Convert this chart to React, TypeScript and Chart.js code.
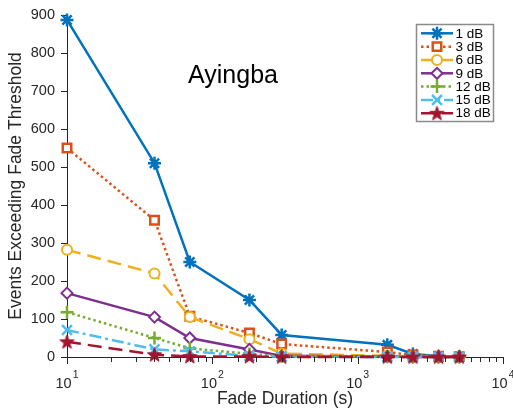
import React, { useEffect, useRef } from 'react';
import { Chart, registerables } from 'chart.js';
import { drawPoint } from 'chart.js/helpers';

Chart.register(...registerables);

// ---- data ----
const durations = [10, 40, 70, 180, 300, 1600, 2400, 3600, 5000];
const thresholdLabels = ['1 dB', '3 dB', '6 dB', '9 dB', '12 dB', '15 dB', '18 dB'];
const events1dB = [887, 510, 250, 150, 58, 32, 8, 2, 1];
const events3dB = [550, 360, 107, 63, 34, 13, 5, 2, 1];
const events6dB = [282, 220, 105, 47, 9, 3, 1, 0, 0];
const events9dB = [168, 105, 50, 20, 3, 1, 0, 0, 0];
const events12dB = [118, 50, 23, 8, 2, 1, 0, 0, 0];
const events15dB = [71, 20, 15, 3, 1, 0, 0, 0, 0];
const events18dB = [40, 6, 1, 1, 0, 0, 0, 0, 0];
const seriesValues = [events1dB, events3dB, events6dB, events9dB, events12dB, events15dB, events18dB];
const xTickExponents = [1, 2, 3, 4];
const yMin = 0;
const yMax = 900;
const yStep = 100;
const chartTitle = 'Ayingba';
const xTitle = 'Fade Duration (s)';
const yTitle = 'Events Exceeding Fade Threshold';

const FONT = '"Liberation Sans", Arial, Helvetica, sans-serif';
const AXIS = '#262626';

function makePentagram(color: string, outerR: number) {
  const c = document.createElement('canvas');
  const size = Math.ceil(outerR * 2 + 2);
  c.width = size;
  c.height = size;
  const g = c.getContext('2d')!;
  const cx = size / 2;
  const cy = size / 2 + 0.5;
  const innerR = outerR * 0.4;
  g.beginPath();
  for (let i = 0; i < 10; i++) {
    const r = i % 2 === 0 ? outerR : innerR;
    const a = -Math.PI / 2 + (i * Math.PI) / 5;
    const px = cx + r * Math.cos(a);
    const py = cy + r * Math.sin(a);
    if (i === 0) g.moveTo(px, py);
    else g.lineTo(px, py);
  }
  g.closePath();
  g.fillStyle = color;
  g.fill();
  g.strokeStyle = color;
  g.lineWidth = 1;
  g.stroke();
  return c;
}

const legendPlugin = {
  id: 'matlabLegend',
  afterDraw(chart: any) {
    const ctx = chart.ctx as CanvasRenderingContext2D;
    ctx.save();
    const bx = 416.5, by = 24.5, bw = 77, bh = 97;
    ctx.fillStyle = '#ffffff';
    ctx.fillRect(bx, by, bw, bh);
    ctx.strokeStyle = '#8a8a8a';
    ctx.lineWidth = 1.5;
    ctx.setLineDash([]);
    ctx.strokeRect(bx, by, bw, bh);
    chart.data.datasets.forEach((ds: any, i: number) => {
      const y = 33.3 + i * 13.33;
      ctx.beginPath();
      ctx.setLineDash(ds.borderDash || []);
      ctx.lineWidth = ds.borderWidth;
      ctx.strokeStyle = ds.borderColor;
      ctx.moveTo(421, y);
      ctx.lineTo(453, y);
      ctx.stroke();
      ctx.setLineDash([]);
      ctx.fillStyle = ds.pointBackgroundColor;
      ctx.strokeStyle = ds.pointBorderColor;
      ctx.lineWidth = ds.pointBorderWidth;
      drawPoint(ctx, { pointStyle: ds.pointStyle, radius: ds.pointRadius, borderWidth: ds.pointBorderWidth, rotation: 0 } as any, 437, y);
      ctx.fillStyle = '#000000';
      ctx.font = `13.5px ${FONT}`;
      ctx.textBaseline = 'middle';
      ctx.textAlign = 'left';
      ctx.fillText(ds.label, 455.5, y + 0.5);
    });
    ctx.restore();
  },
};

const decorPlugin = {
  id: 'matlabDecor',
  afterDraw(chart: any) {
    const ctx = chart.ctx as CanvasRenderingContext2D;
    const xs = chart.scales.x;
    const base = xs.top;
    ctx.save();
    // outward x ticks
    ctx.strokeStyle = AXIS;
    ctx.lineWidth = 1;
    xs.ticks.forEach((t: any) => {
      const px = Math.round(xs.getPixelForValue(t.value)) + 0.5;
      const isMajor = Math.abs(Math.log10(t.value) - Math.round(Math.log10(t.value))) < 1e-9;
      ctx.beginPath();
      ctx.moveTo(px, base);
      ctx.lineTo(px, base + (isMajor ? 7 : 5));
      ctx.stroke();
    });
    // x tick labels with superscripts
    ctx.fillStyle = AXIS;
    ctx.textBaseline = 'alphabetic';
    ctx.textAlign = 'left';
    xTickExponents.forEach((e) => {
      const px = xs.getPixelForValue(Math.pow(10, e));
      ctx.font = `14.5px ${FONT}`;
      const w1 = ctx.measureText('10').width;
      ctx.font = `10.5px ${FONT}`;
      const w2 = ctx.measureText(String(e)).width;
      const start = px - (w1 + w2 + 1) / 2;
      ctx.font = `14.5px ${FONT}`;
      ctx.fillText('10', start, 387.5);
      ctx.font = `10.5px ${FONT}`;
      ctx.fillText(String(e), start + w1 + 1, 377.5);
    });
    // title text
    ctx.fillStyle = '#000000';
    ctx.font = `25px ${FONT}`;
    ctx.textAlign = 'center';
    ctx.fillText(chartTitle, 233, 83);
    ctx.restore();
  },
};

export default function App() {
  const canvasRef = useRef<HTMLCanvasElement | null>(null);

  useEffect(() => {
    const colors = ['#0072BD', '#D95319', '#EDB120', '#7E2F8E', '#77AC30', '#4DBEEE', '#A2142F'];
    const dashes = [[], [2.5, 3], [14, 7], [], [2.5, 3], [12, 4, 3, 4], [14, 7]];
    const pentagram = makePentagram('#A2142F', 7.5);
    const styles: any[] = ['star', 'rect', 'circle', 'rectRot', 'cross', 'crossRot', pentagram];
    const radii = [6.5, 6, 5, 5.5, 6.5, 7, 7.5];
    const fills = ['#0072BD', '#ffffff', '#ffffff', '#ffffff', '#77AC30', '#4DBEEE', '#A2142F'];
    const pbw = [2.5, 2.5, 2, 2, 2.5, 2.5, 2];

    const datasets = seriesValues.map((vals, i) => ({
      label: thresholdLabels[i],
      data: durations.map((d, j) => ({ x: d, y: vals[j] })),
      borderColor: colors[i],
      backgroundColor: colors[i],
      borderWidth: 2.5,
      borderDash: dashes[i],
      pointStyle: styles[i],
      pointRadius: radii[i],
      pointBorderWidth: pbw[i],
      pointBorderColor: colors[i],
      pointBackgroundColor: fills[i],
      tension: 0,
      fill: false,
      clip: false as any,
      order: 7 - i,
    }));

    const chart = new Chart(canvasRef.current!, {
      type: 'line',
      data: { datasets },
      options: {
        animation: false,
        responsive: true,
        maintainAspectRatio: false,
        events: [],
        layout: { padding: { left: 0, right: 10, top: 15, bottom: 0 } },
        plugins: { legend: { display: false }, tooltip: { enabled: false }, title: { display: false } },
        scales: {
          x: {
            type: 'logarithmic',
            position: 'bottom',
            min: 10,
            max: 10000,
            grid: { display: false },
            border: { display: true, color: AXIS, width: 1 },
            ticks: { display: false },
            title: {
              display: true,
              text: xTitle,
              color: AXIS,
              font: { family: FONT, size: 17.5 },
              padding: { top: 0, bottom: 0 },
            },
            afterFit: (s: any) => {
              s.height = 53;
            },
          },
          y: {
            type: 'linear',
            min: yMin,
            max: yMax,
            ticks: { stepSize: yStep, color: AXIS, font: { family: FONT, size: 14.5 }, padding: 6 },
            grid: { display: true, drawOnChartArea: false, drawTicks: true, tickLength: 6, color: AXIS },
            border: { display: true, color: AXIS, width: 1 },
            title: {
              display: true,
              text: yTitle,
              color: AXIS,
              font: { family: FONT, size: 17.5 },
              padding: { top: 5.5, bottom: 0 },
            },
            afterFit: (s: any) => {
              s.width = 67;
            },
          },
        },
      },
      plugins: [legendPlugin, decorPlugin],
    });
    return () => chart.destroy();
  }, []);

  return (
    <div style={{ position: 'absolute', left: 0, top: 0, width: 513, height: 410, background: '#ffffff' }}>
      <canvas ref={canvasRef} />
    </div>
  );
}
